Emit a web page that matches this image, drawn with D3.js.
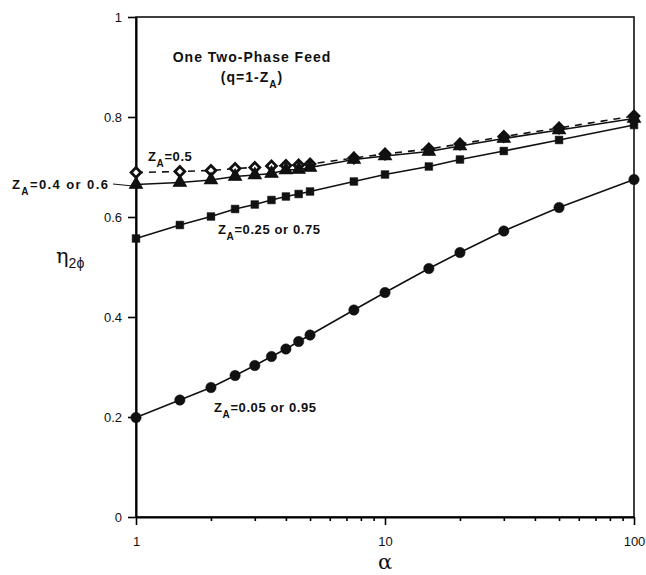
<!DOCTYPE html>
<html>
<head>
<meta charset="utf-8">
<script src="https://cdn.jsdelivr.net/npm/d3@7"></script>
<style>
  body { margin: 0; background: #fff; }
  svg { font-family: "Liberation Sans", Arial, sans-serif; }
  .tick text { font-size: 13px; fill: #111; }
  .lbl { font-size: 13px; font-weight: bold; letter-spacing: 0.6px; fill: #111; }
</style>
</head>
<body>
<div id="vis"></div>
<script>
const FRAME_WIDTH = 646;
const FRAME_HEIGHT = 575;
const MARGINS = {left: 136, right: 12, top: 17, bottom: 58};

// alpha values where each curve was computed
const alpha = [1, 1.5, 2, 2.5, 3, 3.5, 4, 4.5, 5, 7.5, 10, 15, 20, 30, 50, 100];

// eta_2phi for each feed composition
const za05   = [0.689, 0.691, 0.693, 0.697, 0.699, 0.702, 0.703, 0.704, 0.706, 0.718, 0.726, 0.736, 0.746, 0.761, 0.778, 0.802];
const za04   = [0.665, 0.669, 0.674, 0.681, 0.684, 0.687, 0.694, 0.695, 0.699, 0.715, 0.722, 0.731, 0.742, 0.757, 0.774, 0.797];
const za025  = [0.557, 0.584, 0.601, 0.616, 0.625, 0.634, 0.641, 0.646, 0.651, 0.671, 0.685, 0.701, 0.715, 0.732, 0.754, 0.784];
const za005  = [0.199, 0.234, 0.259, 0.283, 0.303, 0.321, 0.336, 0.351, 0.364, 0.414, 0.449, 0.497, 0.529, 0.572, 0.619, 0.675];

const yTicks = [0, 0.2, 0.4, 0.6, 0.8, 1];
const xTickLabels = [1, 10, 100];

const svg = d3.select("#vis")
  .append("svg")
    .attr("width", FRAME_WIDTH)
    .attr("height", FRAME_HEIGHT);

const X_SCALE = d3.scaleLog()
  .domain([1, 100])
  .range([MARGINS.left, FRAME_WIDTH - MARGINS.right]);

const Y_SCALE = d3.scaleLinear()
  .domain([0, 1])
  .range([FRAME_HEIGHT - MARGINS.bottom, MARGINS.top]);

const x0 = X_SCALE(1), x1 = X_SCALE(100);
const y0 = Y_SCALE(0), y1 = Y_SCALE(1);

// frame
svg.append("rect")
  .attr("x", x0).attr("y", y1)
  .attr("width", x1 - x0).attr("height", y0 - y1)
  .attr("fill", "none").attr("stroke", "#111").attr("stroke-width", 1.6);

// x axis: all decade sub-ticks, long ones at decades
let xTickVals = [];
for (let d = 1; d < 100; d *= 10) {
  for (let k = 1; k < 10; k++) xTickVals.push(d * k);
}
xTickVals.push(100);

const xAxis = svg.append("g")
  .attr("transform", "translate(0," + y0 + ")")
  .call(d3.axisBottom(X_SCALE)
    .tickValues(xTickVals)
    .tickSize(4)
    .tickSizeOuter(0)
    .tickPadding(16)
    .tickFormat(d => xTickLabels.includes(d) ? d : ""));
xAxis.select(".domain").attr("stroke-width", 2);
xAxis.selectAll(".tick line")
  .attr("stroke-width", 1.6)
  .attr("y2", d => xTickLabels.includes(d) ? 8 : 4);

const yAxis = svg.append("g")
  .attr("transform", "translate(" + x0 + ",0)")
  .call(d3.axisLeft(Y_SCALE)
    .tickValues(yTicks)
    .tickSize(8)
    .tickSizeOuter(0)
    .tickPadding(6)
    .tickFormat(d => String(d)));
yAxis.select(".domain").attr("stroke-width", 2);
yAxis.selectAll(".tick line").attr("stroke-width", 1.6);

// lines
const line = (vals) => d3.line()
  .x((d, i) => X_SCALE(alpha[i]))
  .y(d => Y_SCALE(d))(vals);

svg.append("path").attr("d", line(za005)).attr("fill", "none").attr("stroke", "#111").attr("stroke-width", 1.6);
svg.append("path").attr("d", line(za025)).attr("fill", "none").attr("stroke", "#111").attr("stroke-width", 1.6);
svg.append("path").attr("d", line(za04)).attr("fill", "none").attr("stroke", "#111").attr("stroke-width", 1.6);
svg.append("path").attr("d", line(za05)).attr("fill", "none").attr("stroke", "#111")
  .attr("stroke-width", 1.6).attr("stroke-dasharray", "7,6");

// markers
function markers(vals, type, size, fill, sw, rot) {
  svg.append("g").selectAll("path")
    .data(vals)
    .enter()
    .append("path")
      .attr("d", d3.symbol().type(type).size(size))
      .attr("transform", (d, i) => "translate(" + X_SCALE(alpha[i]) + "," + Y_SCALE(d) + ") rotate(" + (rot || 0) + ")")
      .attr("fill", fill)
      .attr("stroke", "#111")
      .attr("stroke-width", sw);
}
markers(za05, d3.symbolSquare, 48, "#fff", 2.8, 45);
markers(za04, d3.symbolTriangle, 70, "#111", 1.2);
markers(za025, d3.symbolSquare, 60, "#111", 0.5);
markers(za005, d3.symbolCircle, 85, "#111", 0.5);

// annotation labels
function zLabel(x, y, rest, ls) {
  const t = svg.append("text").attr("class", "lbl").attr("x", x).attr("y", y);
  if (ls) t.style("letter-spacing", ls + "px");
  t.append("tspan").text("Z");
  t.append("tspan").attr("dy", 6).attr("font-size", "10px").text("A");
  t.append("tspan").attr("dy", -6).text(rest);
}
zLabel(148, 161, "=0.5");
zLabel(12, 189, "=0.4 or 0.6", 1.4);
zLabel(218, 234, "=0.25 or 0.75");
zLabel(214, 412, "=0.05 or 0.95");

// leader line for Z_A=0.4 or 0.6
svg.append("line")
  .attr("x1", 113).attr("y1", 184)
  .attr("x2", X_SCALE(1) - 3).attr("y2", 186)
  .attr("stroke", "#111").attr("stroke-width", 1);

// title
svg.append("text").attr("class", "lbl")
  .attr("x", 252).attr("y", 62)
  .attr("text-anchor", "middle")
  .style("font-size", "14px")
  .style("letter-spacing", "1px")
  .text("One Two-Phase Feed");
const t2 = svg.append("text").attr("class", "lbl")
  .attr("x", 252).attr("y", 82)
  .attr("text-anchor", "middle")
  .style("font-size", "14px")
  .style("letter-spacing", "1px");
t2.append("tspan").text("(q=1-Z");
t2.append("tspan").attr("dy", 6).attr("font-size", "10px").text("A");
t2.append("tspan").attr("dy", -6).text(")");

// axis titles
const yl = svg.append("text")
  .attr("x", 56).attr("y", 263)
  .attr("font-family", "'DejaVu Serif', serif")
  .attr("font-size", "21px")
  .attr("fill", "#111");
yl.append("tspan").text("η");
yl.append("tspan").attr("dy", 5).attr("font-size", "14px")
  .attr("font-family", "'Liberation Sans', Arial, sans-serif").text("2ϕ");

svg.append("text")
  .attr("x", X_SCALE(10)).attr("y", 569)
  .attr("text-anchor", "middle")
  .attr("font-family", "'DejaVu Serif', serif")
  .attr("font-size", "21px")
  .attr("fill", "#111")
  .text("α");
</script>
</body>
</html>
